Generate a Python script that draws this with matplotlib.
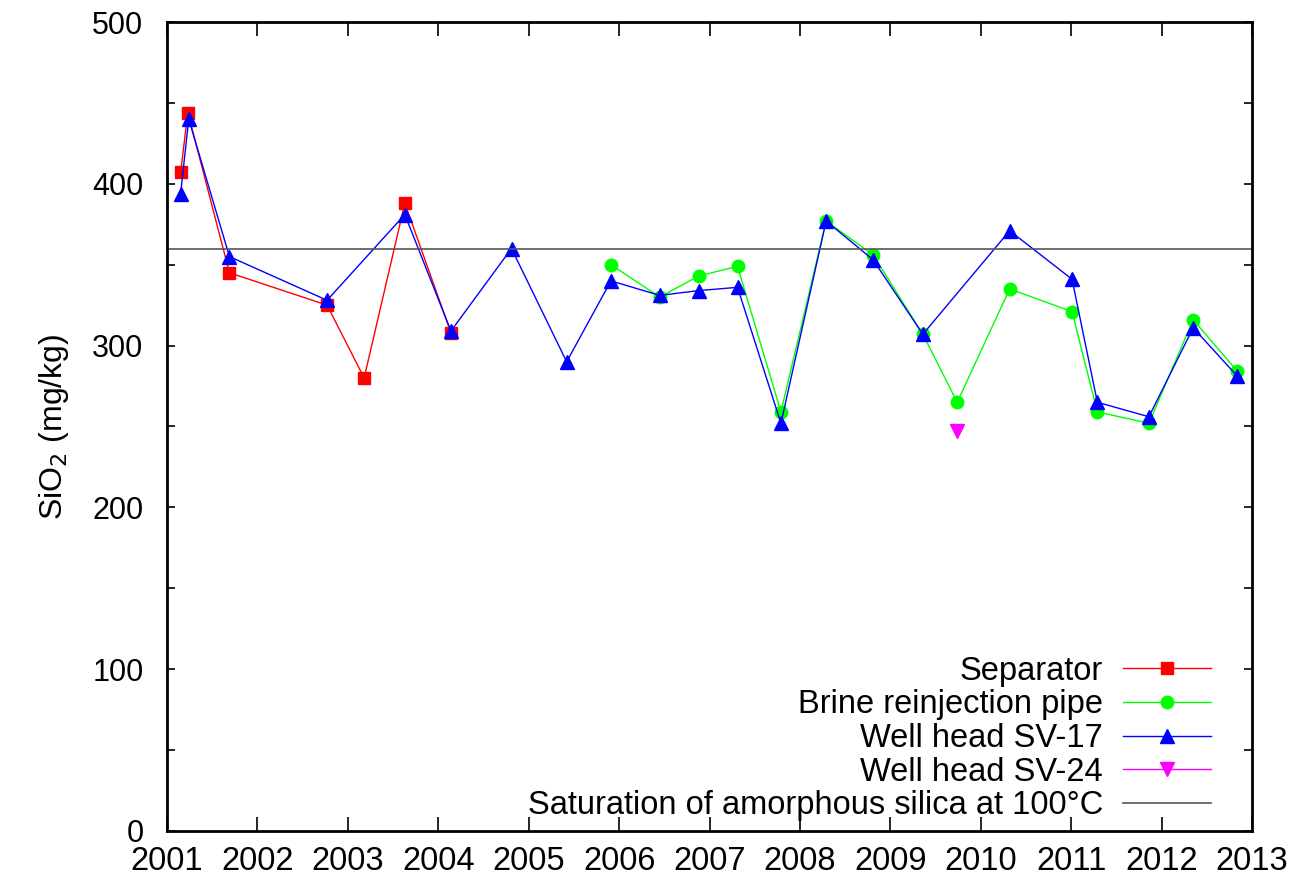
"""
SiO2 concentration over time, separator / reinjection / well heads
"""

import matplotlib
matplotlib.use("Agg")
import matplotlib.pyplot as plt
import numpy as np

plt.rcParams["font.family"] = ["Liberation Sans", "DejaVu Sans"]

# Separator
sep_year = [2001.15, 2001.23, 2001.69, 2002.77, 2003.18, 2003.63, 2004.14]
sep_sio2 = [407, 444, 345, 325, 280, 388, 308]

# Brine reinjection pipe
brine_year = [2005.91, 2006.45, 2006.88, 2007.31, 2007.79, 2008.29, 2008.81,
              2009.36, 2009.74, 2010.32, 2011.01, 2011.29, 2011.86, 2012.35, 2012.84]
brine_sio2 = [350, 330, 343, 349, 259, 377, 356,
              307, 265, 335, 321, 259, 252, 316, 284]

# Well head SV-17
sv17_year = [2001.15, 2001.24, 2001.69, 2002.77, 2003.63, 2004.14, 2004.81, 2005.42,
             2005.91, 2006.45, 2006.88, 2007.31, 2007.79, 2008.29, 2008.81,
             2009.36, 2010.32, 2011.01, 2011.29, 2011.86, 2012.35, 2012.84]
sv17_sio2 = [394, 440, 355, 328, 381, 309, 360, 290,
             340, 331, 334, 336, 252, 377, 353,
             307, 371, 341, 265, 256, 311, 281]

# Well head SV-24
sv24_year = [2009.74]
sv24_sio2 = [247]

saturation = 360
year_ticks = list(range(2001, 2014))

fig = plt.figure(figsize=(12.92, 8.8), dpi=100)
ax = fig.add_axes([0.1293, 0.0557, 0.9690 - 0.1293, 0.975 - 0.0557])

ax.plot(sep_year, sep_sio2, "-", color="#ff0000", lw=1.0, marker="s", ms=9,
        mec="#ff0000", label="Separator")
ax.plot(brine_year, brine_sio2, "-", color="#00ff00", lw=1.0, marker="o", ms=9,
        mec="#00ff00", label="Brine reinjection pipe")
ax.plot(sv17_year, sv17_sio2, "-", color="#0000ff", lw=1.0, marker="^", ms=10,
        mec="#0000ff", label="Well head SV-17")
ax.plot(sv24_year, sv24_sio2, "-", color="#ff00ff", lw=1.0, marker="v", ms=10,
        mec="#ff00ff", label="Well head SV-24")
ax.axhline(saturation, color="#555555", lw=1.2,
           label="Saturation of amorphous silica at 100°C")

ax.set_xlim(2001, 2013)
ax.set_ylim(0, 500)
ax.set_xticks(year_ticks)
ax.set_xticklabels([str(y) for y in year_ticks])
ax.set_yticks(np.arange(0, 501, 100))
ax.set_yticks(np.arange(50, 500, 100), minor=True)

ax.tick_params(axis="both", which="both", direction="in", top=True, right=True,
               width=1.2)
ax.tick_params(axis="x", which="major", length=10, pad=11, labelsize=23.5)
ax.tick_params(axis="y", which="both", length=6, pad=17, labelsize=22)

for s in ax.spines.values():
    s.set_linewidth(2)

ax.set_ylabel("SiO$_2$ (mg/kg)", fontsize=23, labelpad=15)

leg = ax.legend(loc="lower right", bbox_to_anchor=(0.962, 0.012), frameon=False,
                markerfirst=False, fontsize=23.5, handlelength=2.7, handletextpad=0.6,
                labelspacing=0.08, borderaxespad=0, borderpad=0)
for vp in leg._legend_box.get_children()[1].get_children():
    vp.align = "right"

fig.savefig("out.png", dpi=100)
